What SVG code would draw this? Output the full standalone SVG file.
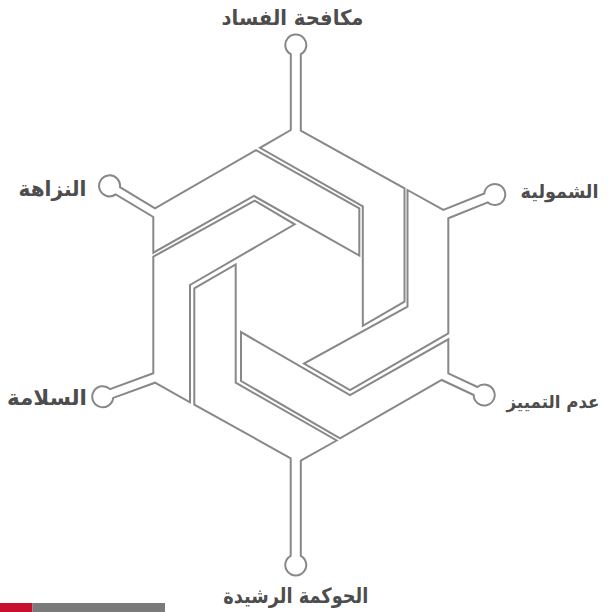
<svg xmlns="http://www.w3.org/2000/svg" width="608" height="612" viewBox="0 0 608 612">
<style>
.pc{fill:none;stroke:#888888;stroke-width:2;stroke-linejoin:miter}
.lb{font-family:"DejaVu Sans","Noto Sans",sans-serif;font-weight:bold;font-size:21px;fill:#4d4d4d;text-anchor:middle}
.rs{font-size:19px}
.rt{font-size:17.5px}
</style>
<rect width="608" height="612" fill="#ffffff"/>
<g id="node-top">
<path class="pc" d="M290.8,130 L290.8,54.2 A10.5,10.5 0 1 1 300.8,54.2 L300.8,130.7 L404.5,188.4 L404.5,301.7 L362.8,325.8 L362.8,206.3 L260,147.8 Z"/>
<text class="lb" x="292.5" y="25" textLength="142" lengthAdjust="spacingAndGlyphs">مكافحة الفساد</text>
</g>
<g id="node-upper-right">
<path class="pc" d="M407.5,190 L443.3,209.9 L484.3,193.5 A10.5,10.5 0 1 1 487.8,202.4 L448.3,218.3 L448.3,333.3 L350,390 L304,363.5 L407.5,306.7 Z"/>
<text class="lb rs" x="559.5" y="198" textLength="78" lengthAdjust="spacingAndGlyphs">الشمولية</text>
</g>
<g id="node-lower-right">
<path class="pc" d="M448.3,339.3 L448.3,373.3 L477.4,387 A10.5,10.5 0 1 1 473.7,395 L441.7,380 L340,438.3 L241,381 L241,332.1 L350,395 Z"/>
<text class="lb rt" x="553" y="408" textLength="93" lengthAdjust="spacingAndGlyphs">عدم التمييز</text>
</g>
<g id="node-bottom">
<path class="pc" d="M336.7,440.5 L300.8,460.7 L300.8,555.8 A10.5,10.5 0 1 1 290.7,555.8 L290.7,458.3 L194.3,404.6 L194.3,288.3 L235.7,264.4 L235.7,382.7 Z"/>
<text class="lb" x="295.8" y="603" textLength="145" lengthAdjust="spacingAndGlyphs">الحوكمة الرشيدة</text>
</g>
<g id="node-lower-left">
<path class="pc" d="M153.3,256.7 L254.7,200.7 L294.7,224.3 L190,285 L190,402.3 L155,382.7 L113.2,397.9 A10.5,10.5 0 1 1 110,389.1 L153.3,373.3 Z"/>
<text class="lb" x="47" y="405" textLength="80" lengthAdjust="spacingAndGlyphs">السلامة</text>
</g>
<g id="node-upper-left">
<path class="pc" d="M153.3,252.7 L153.3,217 L115.7,194.4 A10.5,10.5 0 1 1 120,187.2 L155,208.3 L256,150.1 L359.3,208.3 L359.3,255.5 L254,196 Z"/>
<text class="lb" x="52.5" y="196" textLength="68" lengthAdjust="spacingAndGlyphs">النزاهة</text>
</g>
<g id="footer-bar">
<rect x="0" y="603" width="32.5" height="9" fill="#c8102e"/>
<rect x="32.5" y="603" width="132.5" height="9" fill="#7a7a7a"/>
</g>
</svg>
